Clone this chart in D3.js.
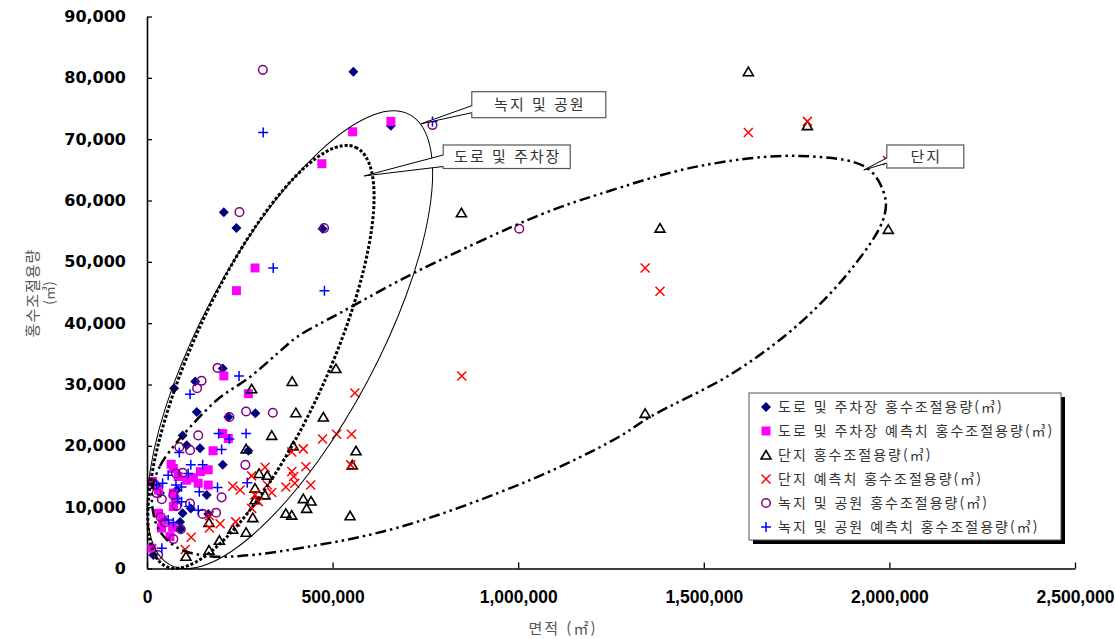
<!DOCTYPE html>
<html lang="ko">
<head>
<meta charset="UTF-8">
<title>면적 - 홍수조절용량</title>
<script src="https://cdnjs.cloudflare.com/ajax/libs/d3/7.8.5/d3.min.js"></script>
<style>
  body { margin: 0; background: #fff; }
  .yaxis text { font: bold 16px "DejaVu Sans", sans-serif; fill: #000; }
  .xaxis text { font: bold 17.5px "Liberation Sans", Arial, sans-serif; fill: #000; }
  .kr { font-family: "Noto Sans CJK KR", sans-serif; }
</style>
</head>
<body>
<div id="chart"></div>
<script>
// 면적(㎡), 홍수조절용량(㎥)
var roadActual = [
  [556000,81000],[657000,72200],[207000,58100],[241000,55500],[473000,55400],
  [204000,32600],[130000,30500],[73000,29400],[134000,25500],[292000,25300],
  [219000,24700],[96000,21700],[107000,20100],[143000,19600],[273000,19200],
  [204000,16900],[18000,13700],[35000,12300],[80000,12800],[161000,12000],
  [118000,9800],[96000,9000],[165000,8900],[89000,7600],[91000,6400],[17000,2200]
];
var roadPred = [
  [554000,71200],[657000,72900],[471000,66000],[291000,49000],[241000,45300],
  [207000,31400],[273000,28500],[204000,22000],[219000,21200],[178000,19200],
  [65000,17000],[71000,16300],[144000,15800],[165000,16100],[84000,15000],
  [107000,14400],[138000,13900],[165000,13600],[125000,14800],[31000,12800],
  [71000,12300],[76000,11200],[71000,10100],[31000,9000],[42000,7900],
  [39000,6600],[69000,6700],[62000,5200],[13000,3300],[15000,14200]
];
var complexActual = [
  [1620000,81000],[1779000,72200],[1382000,55500],[1997000,55300],[847000,58000],
  [1342000,25300],[509000,32600],[391000,30500],[282000,29300],[401000,25400],
  [475000,24700],[336000,21700],[563000,19200],[394000,20000],[267000,19500],
  [553000,16900],[421000,11400],[442000,11000],[430000,9800],[374000,9000],
  [390000,8700],[547000,8600],[302000,15500],[324000,15200],[318000,12000],
  [291000,13100],[291000,11200],[285000,8300],[167000,7500],[231000,6400],
  [267000,5900],[195000,4600],[167000,3000],[105000,2000]
];
var complexPred = [
  [1620000,71100],[1779000,72900],[1342000,49000],[1382000,45200],[848000,31400],
  [1995000,66500],[560000,28600],[473000,21100],[511000,21900],[551000,21900],
  [390000,19000],[421000,19500],[549000,16900],[428000,16600],[390000,15800],
  [395000,15000],[398000,13900],[374000,13300],[441000,13600],[318000,16500],
  [282000,15100],[324000,13600],[336000,12400],[291000,12000],[300000,10900],
  [282000,9800],[231000,13400],[251000,12800],[168000,8600],[168000,6600],
  [197000,7300],[239000,7600],[119000,5100],[103000,3100]
];
var parkActual = [
  [312000,81300],[769000,72300],[249000,58100],[477000,55500],[1003000,55400],
  [190000,32700],[147000,30600],[135000,29400],[267000,25600],[339000,25400],
  [222000,24700],[138000,21700],[87000,19800],[116000,19300],[265000,16900],
  [96000,15600],[78000,15500],[22000,13600],[26000,12300],[40000,11300],
  [71000,12000],[201000,11600],[116000,10600],[80000,10200],[150000,8900],
  [186000,9100],[37000,8400],[48000,7500],[91000,6400],[71000,4800],[30000,2200]
];
var parkPred = [
  [313000,71100],[769000,72900],[340000,49000],[478000,45300],[248000,31400],
  [116000,28400],[193000,22000],[222000,21100],[267000,22000],[87000,18900],
  [201000,19400],[118000,16900],[150000,16900],[57000,15200],[111000,15500],
  [78000,13600],[93000,13300],[42000,13900],[26000,13600],[141000,12500],
  [190000,13200],[270000,14000],[82000,11400],[93000,10900],[114000,10100],
  [138000,9500],[57000,7900],[71000,7500],[40000,3300]
];

var xTicks = [0, 500000, 1000000, 1500000, 2000000, 2500000];
var yTicks = [0, 10000, 20000, 30000, 40000, 50000, 60000, 70000, 80000, 90000];

var seriesNames = [
  "도로 및 주차장 홍수조절용량(㎥)",
  "도로 및 주차장 예측치 홍수조절용량(㎥)",
  "단지 홍수조절용량(㎥)",
  "단지 예측치 홍수조절용량(㎥)",
  "녹지 및 공원 홍수조절용량(㎥)",
  "녹지 및 공원 예측치 홍수조절용량(㎥)"
];
var seriesData = [roadActual, roadPred, complexActual, complexPred, parkActual, parkPred];
var seriesMarks = ["diamond", "square", "triangle", "cross", "circle", "plus"];

// 타원 (중심은 데이터 단위)
var ellipses = [
  { cx: 385000, cy: 37300, rx: 255, ry: 88, angle: -62, style: "solid" },
  { cx: 307000, cy: 34500, rx: 230, ry: 68, angle: -65.7, style: "dot" }
];
// 단지 영역 외곽선
var complexOutline = [
  [13470,12470],[35020,16710],[70040,19810],[96980,21770],[188580,27480],
  [277480,31230],[352910,35140],[404090,37750],[519940,41660],[735450,48670],
  [1058730,57640],[1220370,61070],[1489760,65630],[1759160,67260],[1939660,65300],
  [1988150,60570],[1982760,56820],[1901940,49160],[1759160,40030],[1578660,31880],
  [1355060,24710],[1266160,21280],[1031790,14430],[681570,6770],[431030,3510],
  [250540,2040],[161640,2040],[83510,3340],[29630,6600]
];
var callouts = [
  { label: "녹지 및 공원", bx: 875000, by: 77740, w: 134, h: 26, px: 738000, py: 72500, o1: 14, o2: 21 },
  { label: "도로 및 주차장", bx: 798000, by: 69050, w: 127, h: 23.5, px: 585000, py: 64000, o1: 10, o2: 21.5 },
  { label: "단지", bx: 1993000, by: 69050, w: 77, h: 23, px: 1931000, py: 64970, o1: 13, o2: 18 }
];

var svg = d3.select("#chart").append("svg")
  .attr("width", 1115)
  .attr("height", 639);

var x = d3.scaleLinear().domain([0, 2500000]).range([147, 1075]);
var y = d3.scaleLinear().domain([0, 90000]).range([568.5, 16.5]);

// axes
svg.append("g").attr("class", "yaxis")
  .attr("transform", "translate(147,0)")
  .call(d3.axisLeft(y).tickValues(yTicks).tickSizeInner(-5).tickSizeOuter(0)
    .tickPadding(21).tickFormat(d3.format(",")));
svg.append("g").attr("class", "xaxis")
  .attr("transform", "translate(0,568.5)")
  .call(d3.axisBottom(x).tickValues(xTicks).tickSizeInner(-6).tickSizeOuter(0)
    .tickPadding(22).tickFormat(d3.format(",")));
svg.selectAll(".yaxis path, .xaxis path").attr("stroke", "#000").attr("stroke-width", 1.6);
svg.selectAll(".yaxis line, .xaxis line").attr("stroke", "#000").attr("stroke-width", 1.3);

// axis titles
svg.append("text").attr("class", "kr")
  .attr("transform", "translate(38,293) rotate(-90)")
  .attr("text-anchor", "middle")
  .attr("font-size", 15).attr("letter-spacing", 1).attr("fill", "#555")
  .text("홍수조절용량");
svg.append("text").attr("class", "kr")
  .attr("transform", "translate(54,293) rotate(-90)")
  .attr("text-anchor", "middle")
  .attr("font-size", 14).attr("fill", "#555")
  .text("(㎥)");
svg.append("text").attr("class", "kr")
  .attr("x", 563).attr("y", 634)
  .attr("text-anchor", "middle")
  .attr("font-size", 15).attr("letter-spacing", 2).attr("fill", "#555")
  .text("면적 (㎡)");

// markers
function drawMark(g, type) {
  if (type == "diamond") {
    g.append("path").attr("d", "M0,-5L5,0L0,5L-5,0Z").attr("fill", "#000080");
  } else if (type == "square") {
    g.append("rect").attr("x", -4.5).attr("y", -4.5).attr("width", 9).attr("height", 9).attr("fill", "#ff00ff");
  } else if (type == "triangle") {
    g.append("path").attr("d", "M0,-4.5L5,4L-5,4Z").attr("fill", "none")
      .attr("stroke", "#000").attr("stroke-width", 1.6);
  } else if (type == "cross") {
    g.append("path").attr("d", "M-4.5,-4.5L4.5,4.5M-4.5,4.5L4.5,-4.5").attr("fill", "none")
      .attr("stroke", "#ff0000").attr("stroke-width", 1.5);
  } else if (type == "circle") {
    g.append("circle").attr("r", 4.3).attr("fill", "none")
      .attr("stroke", "#800080").attr("stroke-width", 1.5);
  } else if (type == "plus") {
    g.append("path").attr("d", "M-5,0L5,0M0,-5L0,5").attr("fill", "none")
      .attr("stroke", "#0000ff").attr("stroke-width", 1.5);
  }
}

seriesData.forEach(function (data, i) {
  svg.append("g").selectAll("g")
    .data(data)
    .enter().append("g")
    .attr("transform", function (d) { return "translate(" + x(d[0]) + "," + y(d[1]) + ")"; })
    .each(function () { drawMark(d3.select(this), seriesMarks[i]); });
});

// ellipses
ellipses.forEach(function (e) {
  var el = svg.append("ellipse")
    .attr("transform", "translate(" + x(e.cx) + "," + y(e.cy) + ") rotate(" + e.angle + ")")
    .attr("rx", e.rx).attr("ry", e.ry)
    .attr("fill", "none").attr("stroke", "#000");
  if (e.style == "solid") el.attr("stroke-width", 1);
  if (e.style == "dot") el.attr("stroke-width", 3).attr("stroke-dasharray", "3,2");
});
svg.append("path")
  .datum(complexOutline)
  .attr("d", d3.line()
    .x(function (d) { return x(d[0]); })
    .y(function (d) { return y(d[1]); })
    .curve(d3.curveCatmullRomClosed.alpha(0.5)))
  .attr("fill", "none").attr("stroke", "#000")
  .attr("stroke-width", 2.5).attr("stroke-dasharray", "11,4,2.5,4,2.5,4");

// callouts
callouts.forEach(function (c) {
  var bx = x(c.bx), by = y(c.by), px = x(c.px), py = y(c.py);
  svg.append("rect")
    .attr("x", bx).attr("y", by).attr("width", c.w).attr("height", c.h)
    .attr("fill", "#fff").attr("stroke", "#555").attr("stroke-width", 1.2);
  svg.append("path")
    .attr("d", "M" + (bx + 1) + "," + (by + c.o1) + "L" + px + "," + py + "L" + (bx + 1) + "," + (by + c.o2) + "Z")
    .attr("fill", "#fff").attr("stroke", "none");
  svg.append("path")
    .attr("d", "M" + bx + "," + (by + c.o1) + "L" + px + "," + py + "L" + bx + "," + (by + c.o2))
    .attr("fill", "none").attr("stroke", "#000").attr("stroke-width", 1);
  svg.append("text").attr("class", "kr")
    .attr("x", bx + c.w / 2 + 1).attr("y", by + c.h / 2 + 5.5)
    .attr("text-anchor", "middle")
    .attr("font-size", 15).attr("letter-spacing", 2).attr("fill", "#333")
    .text(c.label);
});

// legend
var legend = svg.append("g").attr("transform", "translate(749,393)");
legend.append("rect").attr("x", 4).attr("y", 4).attr("width", 312).attr("height", 147).attr("fill", "#000");
legend.append("rect").attr("width", 312).attr("height", 147)
  .attr("fill", "#fff").attr("stroke", "#555").attr("stroke-width", 1);
seriesNames.forEach(function (name, i) {
  var row = legend.append("g").attr("transform", "translate(0," + (14 + i * 24) + ")");
  drawMark(row.append("g").attr("transform", "translate(17,0)"), seriesMarks[i]);
  row.append("text").attr("class", "kr")
    .attr("x", 29).attr("y", 5)
    .attr("font-size", 14).attr("letter-spacing", 2).attr("fill", "#333")
    .text(name);
});
</script>
</body>
</html>
